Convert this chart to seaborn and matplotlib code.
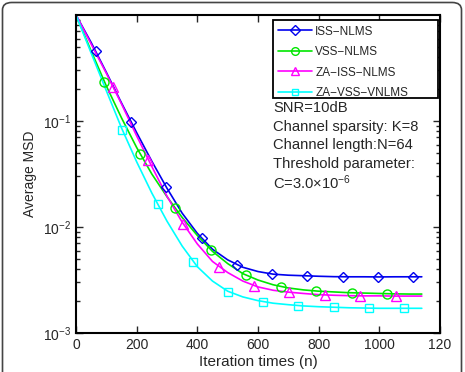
import matplotlib
matplotlib.use('Agg')
import matplotlib.pyplot as plt
import seaborn as sns
import pandas as pd
from matplotlib.lines import Line2D
from matplotlib.patches import Rectangle, FancyBboxPatch
from matplotlib.ticker import LogLocator, NullFormatter, FixedLocator

sns.set_style('ticks')
plt.rcParams['font.family'] = ['Liberation Sans', 'DejaVu Sans']
plt.rcParams['mathtext.fontset'] = 'custom'
plt.rcParams['mathtext.rm'] = 'Liberation Sans'
plt.rcParams['mathtext.it'] = 'Liberation Sans:italic'

# curve samples (iteration, average MSD)
n_line = [0, 50, 100, 150, 200, 250, 300, 350, 400, 450, 500, 550, 600, 650,
          700, 750, 800, 850, 900, 950, 1000, 1050, 1100, 1140]
iss_nlms = [1.0, 0.550, 0.288, 0.148, 0.0776, 0.0417, 0.0232, 0.0135, 0.00871,
            0.00617, 0.00490, 0.00417, 0.00380, 0.00359, 0.00351, 0.00347,
            0.00343, 0.00340, 0.00339, 0.00339, 0.00338, 0.00339, 0.00339, 0.00339]
vss_nlms = [1.0, 0.457, 0.214, 0.107, 0.0562, 0.0316, 0.0193, 0.0123, 0.00832,
            0.00589, 0.00452, 0.00363, 0.00316, 0.00285, 0.00266, 0.00255,
            0.00248, 0.00244, 0.00240, 0.00238, 0.00236, 0.00234, 0.00233, 0.00233]
za_iss_nlms = [1.0, 0.531, 0.282, 0.145, 0.0724, 0.0372, 0.0195, 0.0111, 0.00692,
               0.00473, 0.00372, 0.00309, 0.00272, 0.00253, 0.00243, 0.00236,
               0.00230, 0.00227, 0.00225, 0.00224, 0.00224, 0.00223, 0.00223, 0.00223]
za_vss_vnlms = [1.0, 0.437, 0.193, 0.0861, 0.0412, 0.0209, 0.01135, 0.00661, 0.00422,
                0.00309, 0.00248, 0.00219, 0.00202, 0.00191, 0.00185, 0.00180,
                0.00177, 0.00175, 0.00173, 0.00172, 0.00171, 0.00171, 0.00171, 0.00171]

# marker positions
iss_mk_n = [66, 181, 297, 415, 530, 646, 762, 879, 996, 1111]
iss_mk_v = [0.46, 0.098, 0.0241, 0.00787, 0.00438, 0.00360, 0.00345, 0.00340, 0.00338, 0.00338]
vss_mk_n = [93, 211, 326, 444, 560, 675, 791, 909, 1024]
vss_mk_v = [0.235, 0.0485, 0.0150, 0.00607, 0.00353, 0.00274, 0.00249, 0.00240, 0.00235]
zaiss_mk_n = [123, 238, 354, 471, 588, 703, 821, 936, 1054]
zaiss_mk_v = [0.208, 0.0429, 0.0106, 0.00417, 0.00279, 0.00242, 0.00228, 0.00225, 0.00223]
zavss_mk_n = [153, 269, 385, 502, 618, 733, 851, 967, 1082]
zavss_mk_v = [0.0822, 0.0165, 0.00471, 0.00245, 0.00197, 0.00181, 0.00175, 0.00171, 0.00171]

labels = ['ISS\u2212NLMS', 'VSS\u2212NLMS', 'ZA\u2212ISS\u2212NLMS', 'ZA\u2212VSS\u2212VNLMS']
colors = ['#0000ee', '#00e600', '#ff00ff', '#00ffff']
markers = ['D', 'o', '^', 's']
msizes = [5.5, 6.5, 7, 5.5]
xtick_vals = [0, 200, 400, 600, 800, 1000, 1200]
xtick_text = ['0', '200', '400', '600', '800', '1000', '120']

lines = [iss_nlms, vss_nlms, za_iss_nlms, za_vss_vnlms]
mk = [(iss_mk_n, iss_mk_v), (vss_mk_n, vss_mk_v), (zaiss_mk_n, zaiss_mk_v), (zavss_mk_n, zavss_mk_v)]

df = pd.concat([pd.DataFrame({'n': n_line, 'msd': v, 'alg': lab})
                for v, lab in zip(lines, labels)], ignore_index=True)

fig = plt.figure(figsize=(4.65, 3.72), dpi=100)
ax = fig.add_axes([76/465, 1-333/372, 364/465, 318/372])

sns.lineplot(data=df, x='n', y='msd', hue='alg', palette=dict(zip(labels, colors)),
             estimator=None, legend=False, lw=1.2, ax=ax)
for (mn, mv), c, m, s in zip(mk, colors, markers, msizes):
    sns.lineplot(x=mn, y=mv, estimator=None, marker=m, linestyle='', ms=s, mfc='none',
                 mec=c, mew=1.0, color=c, legend=False, ax=ax)

ax.set_yscale('log')
ax.set_xlim(0, 1200)
ax.set_ylim(1e-3, 1)
ax.xaxis.set_major_locator(FixedLocator(xtick_vals))
ax.set_xticklabels(xtick_text)
ax.yaxis.set_major_locator(FixedLocator([1e-3, 1e-2, 1e-1]))
ax.yaxis.set_minor_locator(LogLocator(base=10, subs=range(2, 10)))
ax.yaxis.set_minor_formatter(NullFormatter())
ax.tick_params(which='both', direction='in', top=True, right=True, labelsize=10, width=1)
ax.tick_params(which='major', length=5)
ax.tick_params(which='minor', length=3)
for sp in ax.spines.values():
    sp.set_linewidth(1.5)
    sp.set_color('black')
ax.set_xlabel('Iteration times (n)', fontsize=11, labelpad=2)
ax.set_ylabel('Average MSD', fontsize=10, labelpad=4)

# legend with MATLAB-like box
ax.add_patch(Rectangle(((273-76)/364, (333-98)/318), (438-273)/364, 78/318,
                       transform=ax.transAxes, fill=True, fc='white', ec='black',
                       lw=1.3, zorder=4))
handles = [Line2D([], [], color=c, marker=m, ms=s*0.85, mfc='none', mec=c, lw=1.2)
           for c, m, s in zip(colors, markers, msizes)]
leg = ax.legend(handles, labels, loc='upper left',
                bbox_to_anchor=((274-76)/364, (333-22)/318), frameon=False,
                fontsize=8.5, handlelength=2.9, handletextpad=0.3, labelspacing=0.72,
                borderaxespad=0, borderpad=0.3)
leg.set_zorder(5)

info = ['SNR=10dB', 'Channel sparsity: K=8', 'Channel length:N=64',
        'Threshold parameter:', r'C=3.0$\times$10$^{-6}$']
for i, t in enumerate(info):
    fig.text(273/465, 1 - (108 + i*18.7)/372, t, fontsize=10.6, va='center', ha='left')

fig.patches.append(FancyBboxPatch((2.5/465, -0.05), 459/465, 1.05 - 2.5/372,
                                  boxstyle='round,pad=0,rounding_size=0.02',
                                  transform=fig.transFigure, fill=False,
                                  ec='#444444', lw=1.2))

fig.savefig('out.png', dpi=100)
